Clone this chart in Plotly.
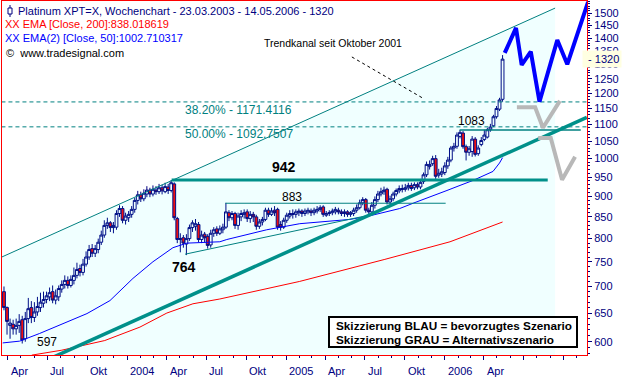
import math
import pandas as pd
import plotly.graph_objects as go

# ---------------- data ----------------
week_start = "2003-03-23"
n_weeks = 165
opens = [690, 660, 628, 630, 622, 628, 638, 605, 640, 660,
         642, 652, 660, 668, 675, 680, 690, 674, 680, 695,
         704, 712, 702, 712, 722, 736, 728, 745, 760, 778,
         768, 776, 792, 808, 830, 836, 825, 826, 858, 870,
         842, 848, 856, 868, 890, 904, 894, 906, 916, 906,
         916, 912, 922, 912, 924, 915, 932, 846, 798, 802,
         788, 800, 825, 828, 832, 798, 810, 805, 786, 812,
         822, 812, 820, 826, 860, 848, 858, 830, 850, 856,
         862, 846, 856, 850, 828, 838, 844, 866, 856, 866,
         868, 832, 826, 842, 852, 858, 856, 860, 864, 858,
         862, 864, 860, 864, 868, 874, 854, 858, 860, 862,
         866, 862, 858, 862, 856, 858, 866, 872, 884, 892,
         866, 862, 878, 892, 906, 912, 918, 886, 894, 906,
         914, 920, 918, 922, 928, 922, 930, 924, 938, 956,
         978, 986, 1000, 955, 958, 962, 980, 996, 1030, 1035,
         1064, 1074, 1034, 1018, 1020, 1056, 1014, 1040, 1055, 1062,
         1084, 1096, 1124, 1148, 1180]
closes = [660, 635, 632, 622, 628, 635, 603, 640, 658, 642,
          652, 662, 670, 675, 682, 688, 674, 682, 696, 704,
          712, 702, 714, 722, 734, 728, 745, 760, 776, 768,
          778, 792, 808, 830, 836, 825, 830, 858, 870, 842,
          852, 856, 868, 890, 904, 894, 908, 916, 906, 918,
          912, 922, 914, 925, 915, 935, 848, 798, 800, 790,
          800, 825, 836, 834, 798, 808, 802, 785, 812, 820,
          812, 822, 826, 862, 848, 858, 830, 852, 858, 860,
          846, 856, 850, 828, 838, 844, 866, 856, 864, 860,
          826, 826, 842, 854, 858, 856, 862, 864, 858, 864,
          866, 860, 866, 868, 872, 856, 858, 860, 864, 868,
          862, 858, 862, 856, 860, 866, 872, 884, 892, 866,
          862, 878, 892, 906, 912, 916, 886, 894, 906, 915,
          920, 918, 922, 928, 920, 930, 924, 936, 956, 984,
          984, 1000, 952, 960, 964, 980, 996, 1030, 1035, 1068,
          1076, 1034, 1018, 1028, 1056, 1012, 1030, 1052, 1068, 1084,
          1092, 1124, 1150, 1178, 1320]
highs = [700, 662, 640, 638, 640, 648, 645, 652, 678, 672,
         670, 680, 688, 690, 690, 698, 702, 694, 702, 712,
         722, 720, 722, 738, 748, 744, 756, 772, 786, 788,
         786, 800, 818, 842, 848, 840, 838, 866, 878, 876,
         860, 864, 876, 896, 914, 912, 918, 926, 922, 928,
         926, 932, 930, 935, 932, 942, 936, 850, 812, 808,
         810, 832, 842, 845, 838, 818, 815, 810, 820, 826,
         828, 830, 834, 884, 866, 864, 862, 860, 866, 868,
         868, 864, 862, 855, 845, 850, 872, 872, 872, 876,
         872, 840, 848, 860, 866, 868, 868, 870, 868, 870,
         872, 870, 872, 876, 878, 878, 864, 866, 870, 874,
         872, 868, 868, 866, 864, 872, 880, 892, 898, 896,
         872, 886, 900, 914, 922, 925, 922, 902, 912, 920,
         928, 930, 932, 935, 935, 936, 936, 945, 962, 992,
         995, 1008, 1010, 972, 975, 990, 1005, 1036, 1045, 1076,
         1083, 1080, 1040, 1036, 1065, 1062, 1038, 1062, 1084, 1090,
         1102, 1130, 1158, 1185, 1335]
lows = [655, 612, 605, 612, 612, 615, 597, 600, 632, 632,
        634, 645, 652, 660, 668, 672, 668, 666, 672, 688,
        696, 696, 698, 704, 716, 720, 722, 740, 754, 760,
        760, 768, 786, 802, 822, 815, 812, 820, 850, 835,
        832, 838, 848, 860, 880, 886, 888, 898, 898, 900,
        904, 906, 905, 908, 906, 910, 842, 790, 770, 780,
        764, 795, 815, 818, 792, 790, 792, 778, 780, 804,
        806, 808, 812, 822, 840, 842, 822, 820, 840, 846,
        838, 836, 838, 820, 822, 830, 840, 850, 852, 852,
        820, 818, 822, 836, 846, 846, 848, 852, 850, 852,
        856, 852, 854, 858, 862, 850, 850, 852, 854, 856,
        856, 852, 850, 850, 850, 852, 860, 868, 878, 860,
        856, 856, 870, 886, 900, 904, 880, 880, 888, 900,
        908, 910, 912, 915, 914, 916, 918, 918, 932, 950,
        970, 980, 945, 948, 950, 955, 972, 990, 1020, 1028,
        1058, 1028, 995, 1008, 1005, 1006, 1008, 1035, 1050, 1058,
        1078, 1092, 1118, 1142, 1172]

# EMA lines
ema50_dates = ["2003-03-20", "2003-04-28", "2003-06-13", "2003-07-30", "2003-09-30",
               "2003-11-22", "2004-01-14", "2004-02-29", "2004-04-15", "2004-05-17",
               "2004-06-16", "2004-08-01", "2004-08-17", "2004-11-17", "2005-02-01",
               "2005-05-27", "2005-07-06", "2005-09-19", "2005-10-20", "2005-11-28",
               "2006-01-06", "2006-02-05", "2006-03-07", "2006-04-22", "2006-05-07",
               "2006-05-14"]
ema50_values = [598, 601, 614, 629, 649, 673, 716, 750, 780, 790,
                791, 793, 798, 820, 834, 844, 851, 870, 883, 898,
                915, 928, 941, 965, 988, 1002.7]
ema200_dates = ["2003-05-26", "2003-08-03", "2003-11-10", "2004-01-30", "2004-04-01",
                "2004-05-31", "2004-08-01", "2005-02-01", "2005-08-16", "2006-01-13",
                "2006-05-14"]
ema200_values = [578, 586, 602, 625, 650, 667, 676, 710, 755, 793, 838.0]

# drawn analysis lines
channel_dates = ["2003-03-18", "2006-09-12"]
channel_prices = [760, 1522]
fill_dates = ["2003-03-18", "2006-09-12", "2006-09-12", "2003-03-18"]
fill_prices = [760, 1522, 500, 500]
trend_dates = ["2003-06-13", "2006-11-24"]
trend_prices = [565, 1122]
support_dates = ["2004-05-13", "2005-07-01"]
support_prices = [766, 852]
res942_dates = ["2004-04-12", "2006-08-26"]
res942_price = 942
res883_dates = ["2004-08-14", "2006-01-03"]
res883_price = 883
res1083_dates = ["2006-02-04", "2006-11-10"]
res1083_price = 1083
fib_levels = [1171.4116, 1092.7507]
fib_labels = ["38.20% - 1171.4116", "50.00% - 1092.7507"]
leader_dates = ["2005-06-01", "2005-11-10"]
leader_prices = [1328, 1185]
blue_dates = ["2006-05-19", "2006-06-14", "2006-06-27", "2006-07-18", "2006-08-07",
              "2006-09-17", "2006-10-10", "2006-11-27"]
blue_prices = [1343, 1440, 1299, 1348, 1172, 1392, 1301, 1549]
gray1_dates = ["2006-06-16", "2006-07-28", "2006-08-15", "2006-09-23"]
gray1_prices = [1154, 1154, 1090, 1175]
gray2_dates = ["2006-08-04", "2006-09-02", "2006-09-28", "2006-10-28"]
gray2_prices = [1059, 1059, 943, 1005]

xtick_dates = ["2003-04-01", "2003-07-01", "2003-10-01", "2004-01-01", "2004-04-01",
               "2004-07-01", "2004-10-01", "2005-01-01", "2005-04-01", "2005-07-01",
               "2005-10-01", "2006-01-01", "2006-04-01"]
xtick_labels = ["Apr", "Jul", "Okt", "2004", "Apr", "Jul", "Okt", "2005", "Apr", "Jul",
                "Okt", "2006", "Apr"]
ytick_vals = [600, 650, 700, 750, 800, 850, 900, 950, 1000, 1050, 1100, 1150,
              1200, 1250, 1300, 1350, 1400, 1450, 1500]
yminor_vals = list(range(580, 1551, 10))
last_price = 1320

# ---------------- figure ----------------
FONT = "Liberation Sans, Arial, sans-serif"
NAVY = "#000080"
TEAL = "#008080"
TEAL2 = "#00908a"

week_dates = pd.date_range(week_start, periods=n_weeks, freq="7D").strftime("%Y-%m-%d").tolist()
fig = go.Figure()

fig.add_trace(go.Scatter(x=fill_dates, y=fill_prices, fill="toself",
                         fillcolor="rgba(0,255,255,0.06)",
                         mode="lines", line=dict(width=0), hoverinfo="skip"))
fig.add_trace(go.Scatter(x=ema200_dates, y=ema200_values, mode="lines",
                         line=dict(color="#FF0000", width=1)))
fig.add_trace(go.Scatter(x=ema50_dates, y=ema50_values, mode="lines",
                         line=dict(color="#0000FF", width=1)))
fig.add_trace(go.Scatter(x=channel_dates, y=channel_prices, mode="lines",
                         line=dict(color=TEAL, width=1)))
for lvl in fib_levels:
    fig.add_trace(go.Scatter(x=["2003-03-01", "2006-12-31"], y=[lvl, lvl], mode="lines",
                             line=dict(color=TEAL, width=1, dash="4px,3px")))
fig.add_trace(go.Scatter(x=support_dates, y=support_prices, mode="lines",
                         line=dict(color=TEAL, width=1)))
fig.add_trace(go.Scatter(x=res883_dates, y=[res883_price] * 2, mode="lines",
                         line=dict(color=TEAL, width=1)))

fig.add_trace(go.Candlestick(
    x=week_dates, open=opens, high=highs, low=lows, close=closes,
    increasing=dict(line=dict(color=NAVY, width=1), fillcolor="#FFFFFF"),
    decreasing=dict(line=dict(color=NAVY, width=1), fillcolor="#FF0000"),
    hoverinfo="skip"))

fig.add_trace(go.Scatter(x=res1083_dates, y=[res1083_price] * 2, mode="lines",
                         line=dict(color=TEAL, width=1.5)))
fig.add_trace(go.Scatter(x=res942_dates, y=[res942_price] * 2, mode="lines",
                         line=dict(color=TEAL2, width=3)))
fig.add_trace(go.Scatter(x=trend_dates, y=trend_prices, mode="lines",
                         line=dict(color=TEAL2, width=3.5)))
fig.add_trace(go.Scatter(x=leader_dates, y=leader_prices, mode="lines",
                         line=dict(color="#000000", width=1, dash="3px,3px")))
fig.add_trace(go.Scatter(x=gray1_dates, y=gray1_prices, mode="lines",
                         line=dict(color="#B8B8B8", width=4)))
fig.add_trace(go.Scatter(x=gray2_dates, y=gray2_prices, mode="lines",
                         line=dict(color="#B8B8B8", width=4)))
fig.add_trace(go.Scatter(x=blue_dates, y=blue_prices, mode="lines",
                         line=dict(color="#0000FF", width=4)))

ann = []
L = math.log10


def txt(x, y, text, size=11, color="#000000", bold=False, xanchor="left", xref="x", yref="y", **kw):
    if bold:
        text = "<b>" + text + "</b>"
    d = dict(x=x, y=y, xref=xref, yref=yref, text=text, showarrow=False,
             xanchor=xanchor, yanchor="middle",
             font=dict(family=FONT, size=size, color=color))
    d.update(kw)
    ann.append(d)


# header texts (paper coords)
def px(xp):
    return (xp - 2) / 585.0


def py(yp):
    return (355 - yp) / 354.0


txt(px(16), py(11), "Platinum XPT=X, Wochenchart - 23.03.2003 - 14.05.2006 - 1320",
    size=11, color=NAVY, xref="paper", yref="paper")
txt(px(3), py(24), "XX EMA [Close, 200]:838.018619", size=11, color="#FF0000",
    xref="paper", yref="paper")
txt(px(3), py(37.5), "XX EMA(2) [Close, 50]:1002.710317", size=11, color="#0000FF",
    xref="paper", yref="paper")
txt(px(4), py(52.5), "©\u00a0 www.tradesignal.com", size=11, color="#000000",
    xref="paper", yref="paper")

# small candle icon before the title
shapes = [
    dict(type="line", xref="paper", yref="paper", x0=px(10), x1=px(10), y0=py(5), y1=py(17),
         line=dict(color=NAVY, width=1)),
    dict(type="rect", xref="paper", yref="paper", x0=px(8), x1=px(12), y0=py(8), y1=py(14),
         line=dict(color=NAVY, width=1), fillcolor="#FFFFFF"),
]

# chart labels
txt("2004-11-06", L(1379), "Trendkanal seit Oktober 2001", size=10.5)
txt("2004-05-08", L(1146), fib_labels[0], size=12, color=TEAL)
txt("2004-05-08", L(1070), fib_labels[1], size=12, color=TEAL)
txt("2004-11-24", L(976), "942", size=14, bold=True)
txt("2004-12-17", L(898), "883", size=12)
txt("2004-04-08", L(739), "764", size=14, bold=True)
txt("2003-06-03", L(599), "597", size=12)
txt("2006-01-27", L(1111), "1083", size=12)

# legend box
shapes.append(dict(type="rect", xref="paper", yref="paper", x0=px(329), x1=px(577),
                   y0=py(347), y1=py(317), line=dict(color="#000000", width=2),
                   fillcolor="#FFFFFF", layer="above"))
txt(px(334), py(325.5), "Skizzierung BLAU = bevorzugtes Szenario", size=11.75, bold=True,
    xref="paper", yref="paper")
txt(px(334), py(339.5), "Skizzierung GRAU = Alternativszenario", size=11.75, bold=True,
    xref="paper", yref="paper")

# last price marker on axis
ann.append(dict(x=1, y=L(last_price), xref="paper", yref="y",
                text="\u00a0- " + str(last_price),
                showarrow=False, xanchor="left", yanchor="middle", xshift=-5,
                bgcolor="#FFFFE1", borderpad=2,
                font=dict(family=FONT, size=11, color=NAVY)))

# x tick labels, left aligned at the tick
for d, t in zip(xtick_dates, xtick_labels):
    ann.append(dict(x=d, y=0, xref="x", yref="paper", text=t, showarrow=False,
                    xanchor="left", yanchor="top", xshift=1, yshift=-8,
                    font=dict(family=FONT, size=11, color=NAVY)))

fig.update_layout(
    width=627, height=378,
    margin=dict(l=2, r=40, t=1, b=23, autoexpand=False),
    paper_bgcolor="#FFFFFF", plot_bgcolor="#FFFFFF",
    showlegend=False, hovermode=False,
    boxgap=0.08, boxgroupgap=0,
    annotations=ann, shapes=shapes,
)
fig.update_xaxes(
    type="date", range=["2003-03-18 10:00", "2006-11-24 10:00"],
    rangeslider=dict(visible=False),
    showline=True, linecolor="#FF0000", linewidth=1, mirror=True,
    showgrid=False, zeroline=False,
    ticks="outside", ticklen=4, tickcolor=NAVY, dtick="M3", tick0="2003-01-01",
    showticklabels=False,
    minor=dict(dtick="M1", ticks="outside", ticklen=2, tickcolor=NAVY, showgrid=False),
)
fig.update_yaxes(
    type="log", range=[L(578.2), L(1552.4)], side="right",
    showline=True, linecolor="#FF0000", linewidth=1, mirror=True,
    showgrid=False, zeroline=False,
    ticks="outside", ticklen=4, tickcolor=NAVY,
    tickvals=ytick_vals, ticktext=[str(v) for v in ytick_vals],
    tickfont=dict(family=FONT, size=11, color=NAVY),
    minor=dict(tickvals=yminor_vals, ticks="outside", ticklen=2, tickcolor=NAVY, showgrid=False),
)

fig.write_html("out.html", config={"displayModeBar": False},
               post_script="document.body.style.margin='0';document.body.style.overflow='hidden';")
